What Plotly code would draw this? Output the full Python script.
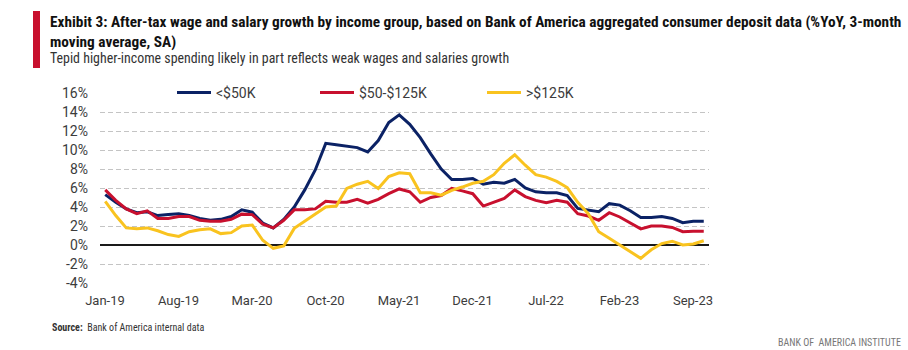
import plotly.graph_objects as go
import pandas as pd

# ---------------- data ----------------
months = list(pd.date_range("2019-01-01", periods=58, freq="MS").strftime("%b-%y"))

under_50k = [5.3, 4.5, 3.8, 3.4, 3.5, 3.1, 3.2, 3.3, 3.1, 2.8,
             2.6, 2.7, 3.0, 3.7, 3.45, 2.3, 1.8, 2.7, 4.0, 5.8,
             7.9, 10.7, 10.55, 10.4, 10.25, 9.8, 11.0, 12.9, 13.7, 12.7,
             11.3, 9.6, 8.0, 6.9, 6.9, 7.0, 6.4, 6.6, 6.5, 6.9,
             6.0, 5.6, 5.5, 5.5, 5.2, 3.85, 3.7, 3.5, 4.35, 4.2,
             3.6, 2.9, 2.9, 3.0, 2.8, 2.35, 2.5, 2.5]

mid_50_125k = [5.8, 4.7, 3.8, 3.3, 3.6, 2.8, 2.8, 3.0, 3.0, 2.6,
               2.5, 2.5, 2.7, 3.25, 3.2, 2.2, 1.8, 2.6, 3.7, 3.7,
               3.8, 4.6, 4.5, 4.5, 4.8, 4.4, 4.8, 5.4, 5.9, 5.6,
               4.5, 5.0, 5.2, 5.95, 5.7, 5.4, 4.1, 4.5, 4.9, 5.8,
               5.1, 4.7, 4.45, 4.7, 4.5, 3.3, 3.05, 2.6, 3.4, 2.95,
               2.35, 1.7, 2.0, 2.0, 1.85, 1.4, 1.45, 1.45]

over_125k = [4.6, 3.1, 1.8, 1.7, 1.8, 1.5, 1.1, 0.9, 1.4, 1.6,
             1.7, 1.2, 1.3, 2.0, 2.1, 0.5, -0.35, -0.1, 1.75, 2.5,
             3.2, 4.0, 4.1, 5.95, 6.4, 6.7, 5.95, 7.2, 7.6, 7.5,
             5.5, 5.5, 5.25, 5.75, 6.1, 6.5, 6.7, 7.4, 8.6, 9.5,
             8.4, 7.4, 7.15, 6.7, 6.05, 4.5, 3.3, 1.4, 0.7, 0.0,
             -0.7, -1.4, -0.5, 0.15, 0.4, 0.0, 0.1, 0.45]

series_names = ["&lt;$50K", "$50-$125K", "&gt;$125K"]
series_colors = ["#0B2265", "#C8102E", "#F9C31F"]

y_min, y_max = -4, 16
y_tick_vals = [-4, -2, 0, 2, 4, 6, 8, 10, 12, 14, 16]
y_tick_text = [f"{v}%" for v in y_tick_vals]
label_step = 7

# ---------------- layout helpers ----------------
W, H = 908, 350
ml, mr, mt, mb = 100, 199, 93, 67
pw, ph = W - ml - mr, H - mt - mb


def px(x):
    return (x - ml) / pw


def py(y):
    return (H - mb - y) / ph


zero_frac = (0 - y_min) / (y_max - y_min)   # where 0% sits inside the plot
x_idx = list(range(len(months)))
x_range = [-0.5, len(months) - 0.5]
x_tick_vals = [k - 0.5 for k in range(0, len(months), label_step)]
x_tick_text = [months[k] for k in range(0, len(months), label_step)]

fig = go.Figure()
for name, vals, col, lg in zip(series_names, [under_50k, mid_50_125k, over_125k],
                               series_colors, ["legend", "legend2", "legend3"]):
    fig.add_trace(go.Scatter(x=x_idx, y=vals, mode="lines", name=name, showlegend=True,
                             line=dict(color=col, width=3), legend=lg))

txt = "#3c3c3c"
axis_col = "#1a1a1a"
base_font = "Roboto, Open Sans, sans-serif"
title_font = "Liberation Sans Narrow, Roboto Condensed, Arial Narrow, Roboto, sans-serif"

legend_common = dict(y=1, yanchor="middle", xanchor="left", orientation="h",
                     bgcolor="white", borderwidth=0, itemwidth=34,
                     font=dict(family=base_font, size=14, color=txt))

fig.update_layout(
    width=W, height=H,
    margin=dict(l=ml, r=mr, t=mt, b=mb),
    paper_bgcolor="white", plot_bgcolor="white",
    showlegend=True,
    legend=dict(x=px(172), **legend_common),
    legend2=dict(x=px(315), **legend_common),
    legend3=dict(x=px(482), **legend_common),
    # labels axis (free, sitting at 0%, labels pushed down to the bottom)
    xaxis=dict(
        range=x_range,
        anchor="free", position=zero_frac,
        showgrid=False, zeroline=False, showline=False, ticks="",
        tickmode="array", tickvals=x_tick_vals, ticktext=x_tick_text,
        ticklabelshift=5, ticklabelstandoff=46,
        tickfont=dict(family=base_font, size=13, color=txt),
    ),
    yaxis=dict(
        range=[y_min, y_max],
        tickmode="array", tickvals=y_tick_vals, ticktext=y_tick_text,
        showgrid=True, gridcolor="#c4c4c4", gridwidth=1, griddash="5px,3px",
        zeroline=True, zerolinecolor=axis_col, zerolinewidth=1.5,
        showline=False, ticks="",
        ticklabelstandoff=11,
        tickfont=dict(family=base_font, size=14, color=txt),
    ),
    # tick-mark axis: bottom of an invisible y axis whose domain starts at 0%
    xaxis2=dict(
        range=x_range, anchor="y2", domain=[0, 1],
        showgrid=False, zeroline=False, showline=False,
        showticklabels=False,
        tickmode="linear", tick0=-0.5, dtick=label_step,
        ticks="inside", ticklen=5, tickcolor=axis_col, tickwidth=1.3,
        minor=dict(tick0=-0.5, dtick=1, ticks="inside", ticklen=3,
                   tickcolor=axis_col, tickwidth=1),
    ),
    yaxis2=dict(
        domain=[zero_frac, 1], anchor="x2", range=[0, y_max], visible=False,
    ),
    shapes=[dict(type="rect", xref="paper", yref="paper",
                 x0=px(33), x1=px(40), y0=py(68), y1=py(11),
                 fillcolor="#C8102E", line=dict(width=0))],
    annotations=[
        dict(xref="paper", yref="paper", x=px(48), y=py(32), xanchor="left", yanchor="middle",
             align="left", showarrow=False,
             text="<b>Exhibit 3: After-tax wage and salary growth by income group, based on Bank of America aggregated consumer deposit data (%YoY, 3-month<br>moving average, SA)</b>",
             font=dict(family=title_font, size=15.3, color="#111111")),
        dict(xref="paper", yref="paper", x=px(48), y=py(58), xanchor="left", yanchor="middle",
             align="left", showarrow=False,
             text="Tepid higher-income spending likely in part reflects weak wages and salaries growth",
             font=dict(family=title_font, size=13.9, color="#333333")),
        dict(xref="paper", yref="paper", x=px(50), y=py(327), xanchor="left", yanchor="middle",
             align="left", showarrow=False,
             text="<b>Source:</b>  Bank of America internal data",
             font=dict(family=title_font, size=10, color="#333333")),
        dict(xref="paper", yref="paper", x=px(903), y=py(342), xanchor="right", yanchor="middle",
             align="right", showarrow=False,
             text="BANK OF  AMERICA INSTITUTE",
             font=dict(family=title_font, size=10, color="#777777")),
    ],
)

fig.write_html("out.html")
